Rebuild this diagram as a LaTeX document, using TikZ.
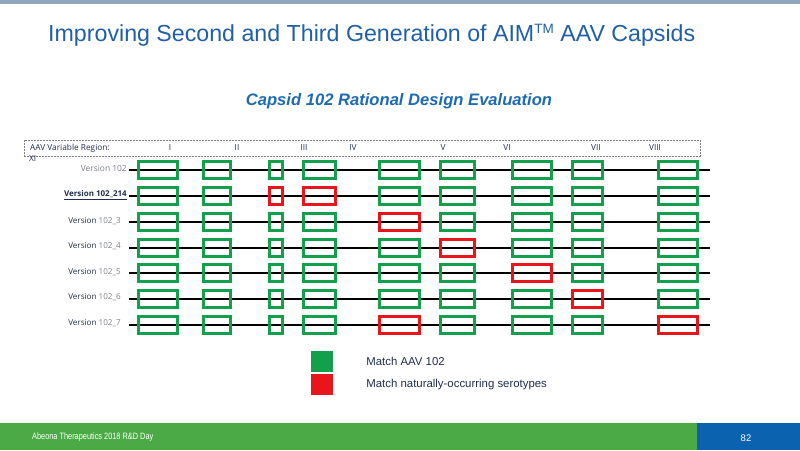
\documentclass[tikz,border=0pt]{standalone}
\usepackage{fontspec}
\setmainfont{Liberation Sans}
\newfontfamily\versionfont{Open Sans}
\newfontfamily\footfont[FakeStretch=0.8]{Liberation Sans}
\usetikzlibrary{positioning}

\definecolor{titleblue}{HTML}{1F5FA8}
\definecolor{subblue}{HTML}{1D6AB4}
\definecolor{boxgreen}{HTML}{12A04B}
\definecolor{boxred}{HTML}{E8161B}
\definecolor{navy}{HTML}{1F2D4E}
\definecolor{labelgray}{HTML}{7A7F87}
\definecolor{footgreen}{HTML}{4BAA46}
\definecolor{footblue}{HTML}{0B63AF}
\definecolor{topbar}{HTML}{8FA6BA}
\colorlet{G}{boxgreen}
\colorlet{R}{boxred}

\tikzset{
  region/.style={draw=#1, line width=2.6pt, inner sep=0pt, minimum height=17pt},
  backbone/.style={draw=black, line width=1.6pt},
  version/.style={font=\versionfont\fontsize{8.1}{9}\selectfont, anchor=east, inner sep=0pt},
  numeral/.style={font=\versionfont\fontsize{8.3}{9}\selectfont, text=navy, inner sep=0pt},
  swatch/.style={minimum width=22pt, minimum height=21pt, inner sep=0pt},
  keytext/.style={font=\fontsize{11.4}{13}\selectfont, text=navy, anchor=west, inner sep=0pt}
}

\def\colx{{158,217,276,319.5,399.5,457.5,532,587.5,678}}
\def\colw{{39,27,13,32,40,34,39,30,39}}

\begin{document}
\begin{tikzpicture}[x=1pt, y=-1pt]
\useasboundingbox (0,0) rectangle (800,450);
\fill[topbar] (0,0) rectangle (800,4);

% Titles
\node[anchor=west, text=titleblue, font=\fontsize{23.2}{27}\selectfont, inner sep=0pt] (title) at (48,35)
  {Improving Second and Third Generation of AIM\raisebox{7.5pt}{\fontsize{13.5}{14}\selectfont TM} AAV Capsids};
\node[text=subblue, font=\bfseries\itshape\fontsize{16.6}{19}\selectfont, inner sep=0pt] (subtitle) at (399,101)
  {Capsid 102 Rational Design Evaluation};

% Variable region header
\node[draw=gray, dash pattern=on 2pt off 1pt, line width=0.6pt, minimum width=676pt, minimum height=16pt, inner sep=0pt] (header) at (362,148) {};
\node[numeral, anchor=west] (regionlabel) at (30,148) {AAV Variable Region:};
\foreach \n/\xx in {I/170, II/237, III/304, IV/353, V/443, VI/507, VII/596, VIII/655}
  \node[numeral] (num\n) at (\xx,147.5) {\n};
\node[numeral, anchor=west] (xi) at (29,158.5) {XI};

% Capsid versions
\foreach \row/\yy/\cols in {1/170/{G,G,G,G,G,G,G,G,G}, 2/196/{G,G,R,R,G,G,G,G,G},
    3/222/{G,G,G,G,R,G,G,G,G}, 4/248/{G,G,G,G,G,R,G,G,G}, 5/273/{G,G,G,G,G,G,R,G,G},
    6/299/{G,G,G,G,G,G,G,R,G}, 7/325/{G,G,G,G,R,G,G,G,R}} {
  \coordinate (start\row) at (129,\yy);
  \coordinate (end\row) at (710,\yy);
  \draw[backbone] (start\row) -- (end\row);
  \foreach \c [count=\k] in \cols {
    \pgfmathsetmacro{\bx}{\colx[\k-1]}
    \pgfmathsetmacro{\bw}{\colw[\k-1]}
    \node[region=\c, minimum width=\bw pt] (box\row-\k) at (\bx,\yy) {};
  }
}

\node[version, text=labelgray, font=\versionfont\fontsize{8.4}{9}\selectfont] (lab1) at (127,168) {Version 102};
\node[version, text=navy, font=\versionfont\bfseries\fontsize{8}{9}\selectfont] (lab2) at (127,195) {\underline{Version 102\_214}};
\foreach \row/\yy in {3/221, 4/246, 5/272, 6/297, 7/323}
  \node[version] (lab\row) at (121,\yy) {\textcolor{navy}{Version} \textcolor{labelgray}{102\_\row}};

% Legend
\node[swatch, fill=boxgreen] (keygreen) at (322,361.5) {};
\node[swatch, fill=boxred, below=1.5pt of keygreen] (keyred) {};
\node[keytext, right=33pt of keygreen] (keygreentext) {Match AAV 102};
\node[keytext, right=33pt of keyred] (keyredtext) {Match naturally-occurring serotypes};

% Footer
\fill[footgreen] (0,423) rectangle (697,450);
\fill[footblue] (697,423) rectangle (800,450);
\node[anchor=west, text=white, font=\footfont\fontsize{9.2}{10}\selectfont, inner sep=0pt] (event) at (32,437) {Abeona Therapeutics 2018 R\&D Day};
\node[text=white, font=\fontsize{9.5}{10}\selectfont, inner sep=0pt] (page) at (746,438) {82};
\end{tikzpicture}
\end{document}
